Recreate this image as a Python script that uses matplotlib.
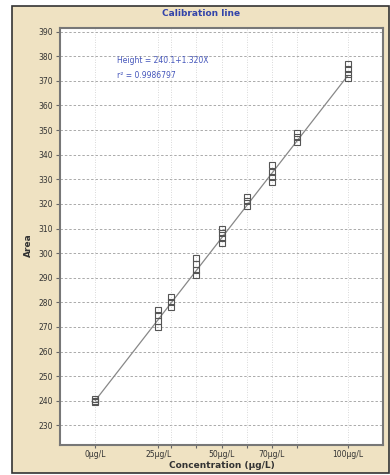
import numpy as np
import matplotlib.pyplot as plt
from matplotlib.patches import Rectangle

# calibration levels (ug/L) and replicate areas
levels = [0, 25, 30, 40, 50, 60, 70, 80, 100]
areas = [
    [239.5, 240.0, 240.5],
    [277.0, 275.0, 272.5, 270.0],
    [282.0, 280.0, 278.0],
    [298.0, 295.5, 293.0, 291.0],
    [310.0, 308.0, 306.0, 304.0],
    [323.0, 321.0, 319.0],
    [336.0, 333.0, 331.0, 329.0],
    [349.0, 347.0, 345.0],
    [377.0, 375.0, 373.0, 371.0],
]
intercept, slope = 240.1, 1.320
tick_pos = [0, 25, 50, 70, 100]
tick_lab = ['0µg/L', '25µg/L', '50µg/L', '70µg/L', '100µg/L']
yticks = np.arange(230, 391, 10)

plt.rc('font', family='DejaVu Sans', size=5.5)
fig = plt.figure(figsize=(3.9, 4.75), dpi=100, facecolor='white')
fig.patches.append(Rectangle((12/390, 2/475), 377/390, 467/475, transform=fig.transFigure,
                             facecolor='#efe2c2', edgecolor='#333333', linewidth=1.2, zorder=-1))

ax = fig.add_axes([60/390, 1 - 445/475, 323/390, 417/475])
ax.set_facecolor('white')

xs = np.concatenate([[c]*len(a) for c, a in zip(levels, areas)])
ys = np.concatenate(areas)
xl = np.array([0, 100])
ax.plot(xl, intercept + slope*xl, color='#888888', lw=0.9, zorder=2)
ax.plot(xs, ys, 's', ms=4.3, mfc='none', mec='#555555', mew=0.8, zorder=3)

ax.set_xlim(-14, 114)
ax.set_ylim(222, 391.5)
ax.set_yticks(yticks)
ax.set_xticks(levels)
ax.set_xticklabels(['' for _ in levels])
for p, t in zip(tick_pos, tick_lab):
    ax.text(p, -0.012, t, transform=ax.get_xaxis_transform(), ha='center', va='top',
            fontsize=5.5, color='#333333')
ax.tick_params(axis='x', length=2, color='#666666')
ax.tick_params(axis='y', length=3, color='#666666', labelcolor='#333333', pad=2)

for y in yticks:
    ax.axhline(y, color='#aaaaaa', lw=0.7, ls=(0, (2.5, 2)), zorder=1)
for c in levels:
    ax.axvline(c, color='#cccccc', lw=0.6, ls=(0, (1, 2)), zorder=1)

for s in ax.spines.values():
    s.set_color('#777777')
    s.set_linewidth(1.5)

ax.text(0.176, 0.921, 'Height = 240.1+1.320X', transform=ax.transAxes, color='#4455bb',
        fontsize=5.5, va='center')
ax.text(0.176, 0.885, 'r² = 0.9986797', transform=ax.transAxes, color='#4455bb',
        fontsize=5.5, va='center')

fig.text(0.515, 1 - 13/475, 'Calibration line', ha='center', va='center', color='#3344aa',
         fontsize=6.5, fontweight='bold')
fig.text(28/390, 1 - 245/475, 'Area', rotation=90, ha='center', va='center',
         fontsize=6.5, fontweight='bold', color='#333333')
fig.text(0.57, 1 - 465/475, 'Concentration (µg/L)', ha='center', va='center',
         fontsize=6.5, fontweight='bold', color='#333333')

plt.savefig('out.png', dpi=100, facecolor=fig.get_facecolor())
